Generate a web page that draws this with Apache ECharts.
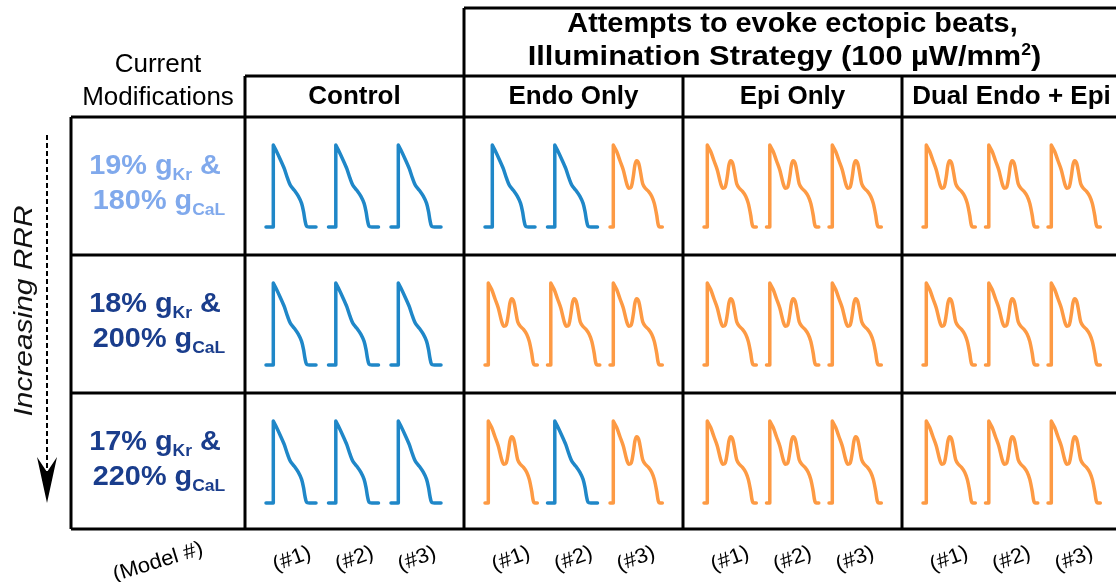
<!DOCTYPE html>
<html>
<head>
<meta charset="utf-8">
<script src="https://cdn.jsdelivr.net/npm/echarts@6/dist/echarts.min.js"></script>
<style>
  html, body { margin: 0; padding: 0; background: #fff; }
  #chart { width: 1116px; height: 582px; }
</style>
</head>
<body>
<div id="chart"></div>
<script>
// Action potential without ectopic activity (time from window start in ms, membrane voltage in mV)
const normalTime    = [0, 73, 73, 100, 143, 183, 216, 243, 283, 323, 356, 376, 390, 406, 433, 500];
const normalVoltage = [-85, -85, 40, 32, 18, 4, -11, -21, -29, -38, -49, -62, -75, -84, -85, -85];

// Action potential with an early afterdepolarization (ectopic beat evoked)
const eadTime    = [0, 33, 33, 67, 100, 133, 167, 190, 213, 233, 250, 267, 287, 307, 327, 353, 387, 417, 443, 467, 483, 500, 523];
const eadVoltage = [-85, -85, 40, 30, 16, 2, -19, -26, -24, -8, 10, 16, 12, -3, -19, -26, -31, -38, -49, -67, -82, -85, -85];

// Illumination strategies (columns) and models per cell
const strategies = ['Control', 'Endo Only', 'Epi Only', 'Dual Endo + Epi'];
const modelLabels = ['(#1)', '(#2)', '(#3)'];

// Current modifications (rows), by increasing RRR
const gKrPercent  = ['19%', '18%', '17%'];
const gCaLPercent = ['180%', '200%', '220%'];

// Outcome per row, per strategy, for models #1-#3 (1 = ectopic beat evoked)
const outcomes = [
  [[0, 0, 0], [0, 0, 1], [1, 1, 1], [1, 1, 1]],
  [[0, 0, 0], [1, 1, 1], [1, 1, 1], [1, 1, 1]],
  [[0, 0, 0], [1, 0, 1], [1, 1, 1], [1, 1, 1]]
];

// ---- layout ----
const FONT = "'Liberation Sans', Arial, sans-serif";
const BLUE = '#1f87c8';
const ORANGE = '#fd9a44';
const rowColors = ['#80a9ec', '#1a3d8c', '#1a3d8c'];
const colX = [245, 464, 683, 902, 1121];
const rowY = [117, 255, 393, 529];
const labelLeft = 71;
const headerTop = 76;
const titleTop = 8;
const traceOffset = 21, traceStep = 62.5, traceTopPad = 28;
const traceW = 53, traceH = 82;

const chart = echarts.init(document.getElementById('chart'), null, { renderer: 'canvas' });

const grids = [], xAxes = [], yAxes = [], series = [];
outcomes.forEach((row, r) => {
  row.forEach((cell, c) => {
    cell.forEach((ead, k) => {
      const i = grids.length;
      grids.push({
        left: colX[c] + traceOffset + k * traceStep,
        top: rowY[r] + traceTopPad,
        width: traceW,
        height: traceH,
        containLabel: false,
        outerBoundsMode: 'none'
      });
      xAxes.push({ gridIndex: i, type: 'value', min: 0, max: 530, show: false });
      yAxes.push({ gridIndex: i, type: 'value', min: -85, max: 40, show: false });
      const t = ead ? eadTime : normalTime;
      const v = ead ? eadVoltage : normalVoltage;
      series.push({
        type: 'line',
        xAxisIndex: i,
        yAxisIndex: i,
        data: t.map((x, j) => [x, v[j]]),
        symbol: 'none',
        showSymbol: false,
        clip: false,
        silent: true,
        smooth: 0.3,
        lineStyle: { color: ead ? ORANGE : BLUE, width: 3.5, join: 'round', cap: 'round' }
      });
    });
  });
});

// ---- table frame ----
const graphics = [];
function line(x1, y1, x2, y2, w) {
  graphics.push({
    type: 'line', silent: true,
    shape: { x1, y1, x2, y2 },
    style: { stroke: '#000', lineWidth: w || 3 }
  });
}
const right = colX[4];
line(colX[1], titleTop, right, titleTop);
line(colX[0], headerTop, right, headerTop);
line(labelLeft, rowY[0], right, rowY[0]);
line(labelLeft, rowY[1], right, rowY[1]);
line(labelLeft, rowY[2], right, rowY[2]);
line(labelLeft, rowY[3], right, rowY[3]);
line(labelLeft, rowY[0], labelLeft, rowY[3]);
line(colX[0], headerTop, colX[0], rowY[3]);
line(colX[1], titleTop, colX[1], rowY[3]);
line(colX[2], headerTop, colX[2], rowY[3]);
line(colX[3], headerTop, colX[3], rowY[3]);

function text(str, x, y, opts) {
  opts = opts || {};
  graphics.push({
    type: 'text', silent: true,
    x, y,
    rotation: opts.rotation || 0,
    scaleX: opts.scaleX || 1,
    style: {
      text: str,
      fill: opts.color || '#000',
      font: (opts.style || 'normal') + ' ' + (opts.weight || 'normal') + ' ' + (opts.size || 26) + 'px ' + FONT,
      fontSize: opts.size || 26,
      fontWeight: opts.weight || 'normal',
      fontStyle: opts.style || 'normal',
      fontFamily: FONT,
      align: 'center', verticalAlign: 'middle',
      textAlign: 'center', textVerticalAlign: 'middle',
      rich: opts.rich
    }
  });
}

// Title over the illumination strategies
const titleX = (colX[1] + colX[4]) / 2;
text('Attempts to evoke ectopic beats,', titleX, 24, { size: 28, weight: 'bold', scaleX: 1.03 });
text('Illumination Strategy (100 µW/mm{sup|2})', titleX - 8, 57, {
  size: 28, weight: 'bold', scaleX: 1.1,
  rich: {
    sup: { fontSize: 16, fontWeight: 'bold', fontFamily: FONT, fill: '#000', color: '#000', verticalAlign: 'top', lineHeight: 16 }
  }
});

// Column headers
text('Current', (labelLeft + colX[0]) / 2, 65, { size: 26 });
text('Modifications', (labelLeft + colX[0]) / 2, 98, { size: 26 });
strategies.forEach((s, c) => {
  text(s, (colX[c] + colX[c + 1]) / 2, 97, { size: 26, weight: 'bold' });
});

// Row labels with subscripts
gKrPercent.forEach((kr, r) => {
  const col = rowColors[r];
  const rich = {
    m: { fontSize: 28, fontWeight: 'bold', fontFamily: FONT, fill: col, color: col, lineHeight: 35 },
    s: { fontSize: 17, fontWeight: 'bold', fontFamily: FONT, fill: col, color: col, lineHeight: 17, verticalAlign: 'bottom' }
  };
  text('{m|' + kr + ' g}{s|Kr}{m| &}', 155, rowY[r] + 49, { size: 28, weight: 'bold', color: col, rich, scaleX: 1.03 });
  text('{m|' + gCaLPercent[r] + ' g}{s|CaL}', 159, rowY[r] + 84, { size: 28, weight: 'bold', color: col, rich, scaleX: 1.03 });
});

// Increasing RRR arrow
graphics.push({
  type: 'line', silent: true,
  shape: { x1: 47, y1: 135, x2: 47, y2: 472 },
  style: { stroke: '#000', lineWidth: 2, lineDash: [5, 3] }
});
graphics.push({
  type: 'polygon', silent: true,
  shape: { points: [[47, 503], [37, 457], [47, 472], [57, 457]] },
  style: { fill: '#000' }
});
text('Increasing RRR', 25, 311, { size: 26, style: 'italic', rotation: Math.PI / 2, color: '#111', scaleX: 1.15 });

// Model labels under each column
const rot = 20 * Math.PI / 180;
text('(Model #)', 158, 562, { size: 21, rotation: 17 * Math.PI / 180, scaleX: 1.05 });
strategies.forEach((s, c) => {
  modelLabels.forEach((m, k) => {
    text(m, colX[c] + traceOffset + k * traceStep + 26, 559, { size: 21, rotation: rot, scaleX: 1.05 });
  });
});

chart.setOption({
  backgroundColor: '#fff',
  animation: false,
  grid: grids,
  xAxis: xAxes,
  yAxis: yAxes,
  series: series,
  graphic: { elements: graphics }
});
</script>
</body>
</html>
